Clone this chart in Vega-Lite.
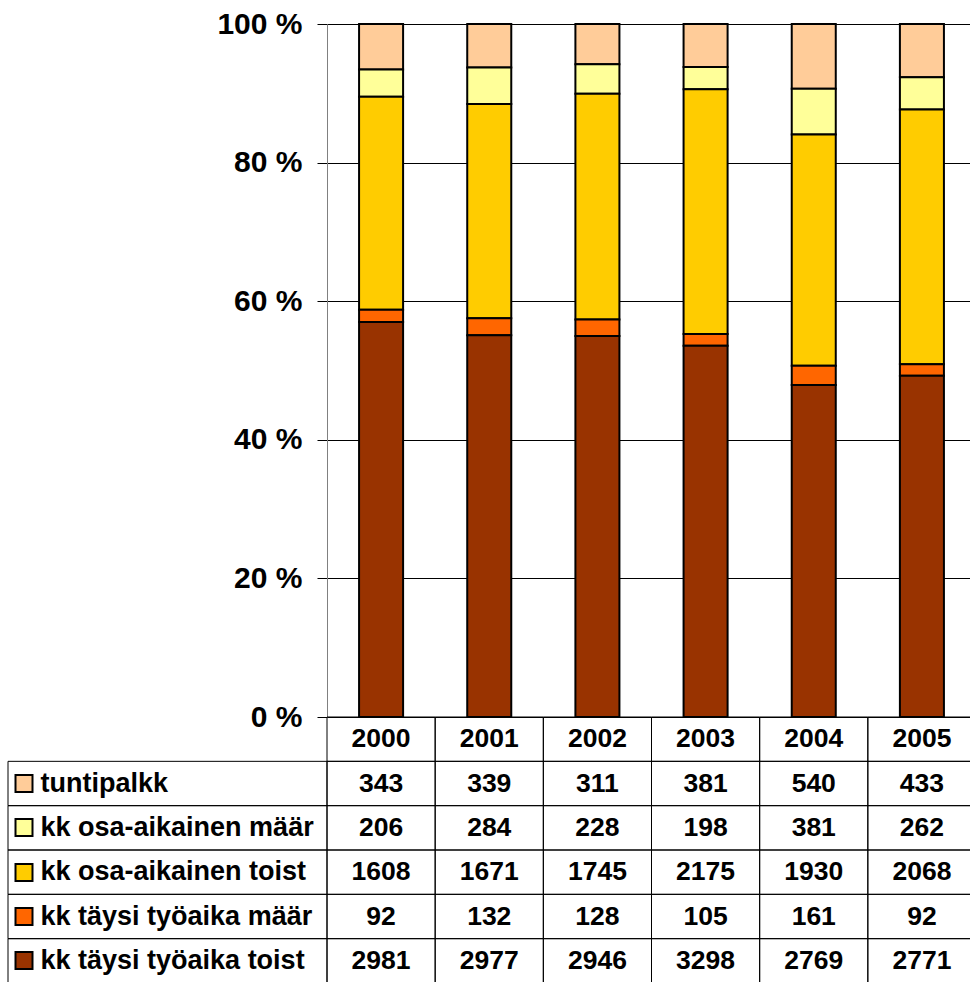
{
  "$schema": "https://vega.github.io/schema/vega-lite/v6.json",
  "padding": {"left": 4, "top": 9, "right": 0, "bottom": 0},
  "background": "white",
  "config": {"font": "Liberation Sans", "view": {"stroke": null}},
  "data": {"values": [
    {"year": "2000", "series": "tuntipalkk", "value": 343},
    {"year": "2001", "series": "tuntipalkk", "value": 339},
    {"year": "2002", "series": "tuntipalkk", "value": 311},
    {"year": "2003", "series": "tuntipalkk", "value": 381},
    {"year": "2004", "series": "tuntipalkk", "value": 540},
    {"year": "2005", "series": "tuntipalkk", "value": 433},
    {"year": "2000", "series": "kk osa-aikainen määr", "value": 206},
    {"year": "2001", "series": "kk osa-aikainen määr", "value": 284},
    {"year": "2002", "series": "kk osa-aikainen määr", "value": 228},
    {"year": "2003", "series": "kk osa-aikainen määr", "value": 198},
    {"year": "2004", "series": "kk osa-aikainen määr", "value": 381},
    {"year": "2005", "series": "kk osa-aikainen määr", "value": 262},
    {"year": "2000", "series": "kk osa-aikainen toist", "value": 1608},
    {"year": "2001", "series": "kk osa-aikainen toist", "value": 1671},
    {"year": "2002", "series": "kk osa-aikainen toist", "value": 1745},
    {"year": "2003", "series": "kk osa-aikainen toist", "value": 2175},
    {"year": "2004", "series": "kk osa-aikainen toist", "value": 1930},
    {"year": "2005", "series": "kk osa-aikainen toist", "value": 2068},
    {"year": "2000", "series": "kk täysi työaika määr", "value": 92},
    {"year": "2001", "series": "kk täysi työaika määr", "value": 132},
    {"year": "2002", "series": "kk täysi työaika määr", "value": 128},
    {"year": "2003", "series": "kk täysi työaika määr", "value": 105},
    {"year": "2004", "series": "kk täysi työaika määr", "value": 161},
    {"year": "2005", "series": "kk täysi työaika määr", "value": 92},
    {"year": "2000", "series": "kk täysi työaika toist", "value": 2981},
    {"year": "2001", "series": "kk täysi työaika toist", "value": 2977},
    {"year": "2002", "series": "kk täysi työaika toist", "value": 2946},
    {"year": "2003", "series": "kk täysi työaika toist", "value": 3298},
    {"year": "2004", "series": "kk täysi työaika toist", "value": 2769},
    {"year": "2005", "series": "kk täysi työaika toist", "value": 2771}
  ]},
  "columns": 2,
  "spacing": 0,
  "bounds": "flush",
  "concat": [
    {
      "width": 319, "height": 693,
      "data": {"values": []},
      "mark": {"type": "point"},
      "encoding": {
        "x": {"field": "a", "type": "quantitative", "axis": null},
        "y": {"field": "b", "type": "quantitative", "axis": null}
      }
    },
    {
      "width": 649, "height": 693,
      "transform": [
        {"calculate": "indexof(['kk täysi työaika toist', 'kk täysi työaika määr', 'kk osa-aikainen toist', 'kk osa-aikainen määr', 'tuntipalkk'], datum.series)", "as": "stackIdx"}
      ],
      "mark": {"type": "bar", "stroke": "black", "strokeWidth": 2, "width": {"band": 0.407}},
      "encoding": {
        "x": {"field": "year", "type": "nominal", "scale": {"paddingInner": 0, "paddingOuter": 0}, "axis": null},
        "y": {"field": "value", "type": "quantitative", "stack": "normalize", "scale": {"domain": [0, 1]},
          "axis": {"values": [0, 0.2, 0.4, 0.6, 0.8, 1], "labelExpr": "format(datum.value * 100, 'd') + ' %'", "title": null,
            "grid": true, "gridColor": "black", "gridWidth": 1, "domainColor": "#808080", "domainWidth": 1,
            "tickColor": "black", "tickSize": 10, "labelFontSize": 30, "labelFontWeight": "bold", "labelColor": "black", "labelPadding": 15}},
        "color": {"field": "series", "type": "nominal",
          "scale": {"domain": ["kk täysi työaika toist", "kk täysi työaika määr", "kk osa-aikainen toist", "kk osa-aikainen määr", "tuntipalkk"],
            "range": ["#993300", "#FF6600", "#FFCC00", "#FFFF99", "#FFCC99"]},
          "legend": null},
        "order": {"field": "stackIdx", "type": "quantitative", "sort": "ascending"}
      }
    },
    {
      "width": 319, "height": 266,
      "transform": [{"aggregate": [{"op": "count", "as": "n"}], "groupby": ["series"]}],
      "layer": [
        {
          "mark": {"type": "rect", "fill": "transparent", "stroke": "black", "strokeWidth": 1},
          "encoding": {
            "x": {"datum": 0, "type": "quantitative", "scale": {"domain": [0, 1]}, "axis": null},
            "x2": {"datum": 1},
            "y": {"field": "series", "type": "nominal",
              "scale": {"domain": ["hdr", "tuntipalkk", "kk osa-aikainen määr", "kk osa-aikainen toist", "kk täysi työaika määr", "kk täysi työaika toist"], "paddingInner": 0, "paddingOuter": 0},
              "axis": {"orient": "left", "offset": -6, "domain": false, "grid": false, "labels": false, "title": null,
                "values": ["tuntipalkk", "kk osa-aikainen määr", "kk osa-aikainen toist", "kk täysi työaika määr", "kk täysi työaika toist"],
                "tickColor": "black", "tickSize": -19, "tickWidth": 19, "zindex": 1}}
          }
        },
        {
          "mark": {"type": "rect", "fill": "transparent", "opacity": 0},
          "encoding": {
            "x": {"datum": 0, "type": "quantitative"},
            "x2": {"datum": 1},
            "y": {"field": "series", "type": "nominal",
              "axis": {"orient": "left", "offset": -8, "domain": false, "grid": false, "title": null,
                "values": ["tuntipalkk", "kk osa-aikainen määr", "kk osa-aikainen toist", "kk täysi työaika määr", "kk täysi työaika toist"],
                "tickColor": {"condition": [
                  {"test": "datum.value === 'tuntipalkk'", "value": "#FFCC99"},
                  {"test": "datum.value === 'kk osa-aikainen määr'", "value": "#FFFF99"},
                  {"test": "datum.value === 'kk osa-aikainen toist'", "value": "#FFCC00"},
                  {"test": "datum.value === 'kk täysi työaika määr'", "value": "#FF6600"}
                ], "value": "#993300"},
                "tickSize": -15, "tickWidth": 15, "zindex": 2,
                "labelAlign": "left", "labelBaseline": "middle", "labelPadding": -9,
                "labelFontSize": 27, "labelFontWeight": "bold", "labelColor": "black", "labelLimit": 0}}
          }
        }
      ],
      "resolve": {"axis": {"y": "independent"}}
    },
    {
      "width": 649, "height": 266,
      "layer": [
        {
          "mark": {"type": "rect", "fill": "transparent", "stroke": "black", "strokeWidth": 1},
          "encoding": {
            "x": {"field": "year", "type": "nominal", "scale": {"paddingInner": 0, "paddingOuter": 0}, "axis": null},
            "y": {"field": "series", "type": "nominal",
              "scale": {"domain": ["hdr", "tuntipalkk", "kk osa-aikainen määr", "kk osa-aikainen toist", "kk täysi työaika määr", "kk täysi työaika toist"], "paddingInner": 0, "paddingOuter": 0},
              "axis": null}
          }
        },
        {
          "mark": {"type": "text", "fontSize": 26.5, "fontWeight": "bold", "color": "black"},
          "encoding": {
            "x": {"field": "year", "type": "nominal"},
            "y": {"field": "series", "type": "nominal"},
            "text": {"field": "value", "type": "quantitative", "format": "d"}
          }
        },
        {
          "transform": [{"aggregate": [{"op": "count", "as": "n"}], "groupby": ["year"]}],
          "mark": {"type": "rect", "fill": "transparent", "stroke": "black", "strokeWidth": 1},
          "encoding": {
            "x": {"field": "year", "type": "nominal"},
            "y": {"datum": "hdr", "type": "nominal"}
          }
        },
        {
          "transform": [{"aggregate": [{"op": "count", "as": "n"}], "groupby": ["year"]}],
          "mark": {"type": "text", "fontSize": 26.5, "fontWeight": "bold", "color": "black"},
          "encoding": {
            "x": {"field": "year", "type": "nominal"},
            "y": {"datum": "hdr", "type": "nominal"},
            "text": {"field": "year", "type": "nominal"}
          }
        }
      ]
    }
  ]
}
